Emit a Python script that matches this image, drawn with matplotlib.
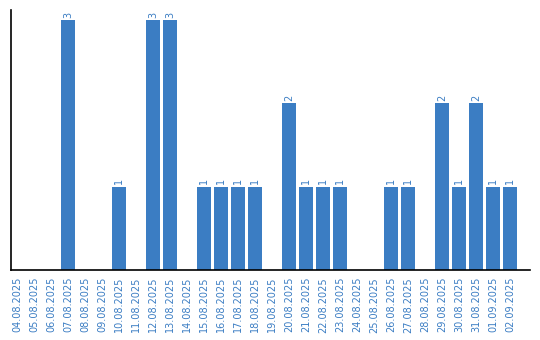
import matplotlib
matplotlib.use("Agg")
import matplotlib.pyplot as plt

dates = ["04.08.2025","05.08.2025","06.08.2025","07.08.2025","08.08.2025","09.08.2025",
         "10.08.2025","11.08.2025","12.08.2025","13.08.2025","14.08.2025","15.08.2025",
         "16.08.2025","17.08.2025","18.08.2025","19.08.2025","20.08.2025","21.08.2025",
         "22.08.2025","23.08.2025","24.08.2025","25.08.2025","26.08.2025","27.08.2025",
         "28.08.2025","29.08.2025","30.08.2025","31.08.2025","01.09.2025","02.09.2025"]
values = [0,0,0,3,0,0,1,0,3,3,0,1,1,1,1,0,2,1,1,1,0,0,1,1,0,2,1,2,1,1]

color = "#3b7dc3"
fig = plt.figure(figsize=(5.4, 3.4), dpi=100)
ax = fig.add_axes([11/540, 70/340, 519/540, 260/340])
x = list(range(len(dates)))
bars = ax.bar(x, values, width=0.82, color=color)
for xi, v in zip(x, values):
    if v > 0:
        ax.text(xi, v + 0.03, str(v), rotation=90, ha="center", va="bottom",
                fontsize=7, color=color)
ax.set_xlim(-0.35, len(dates) - 1 + 1.17)
ax.set_ylim(0, 3.12)
ax.set_xticks(x)
ax.set_xticklabels(dates, rotation=90, fontsize=7, color=color)
ax.tick_params(axis="x", length=0, pad=5)
ax.set_yticks([])
ax.spines["top"].set_visible(False)
ax.spines["right"].set_visible(False)
ax.spines["left"].set_linewidth(1.2)
ax.spines["bottom"].set_linewidth(1.2)
fig.savefig("out.png", dpi=100)
